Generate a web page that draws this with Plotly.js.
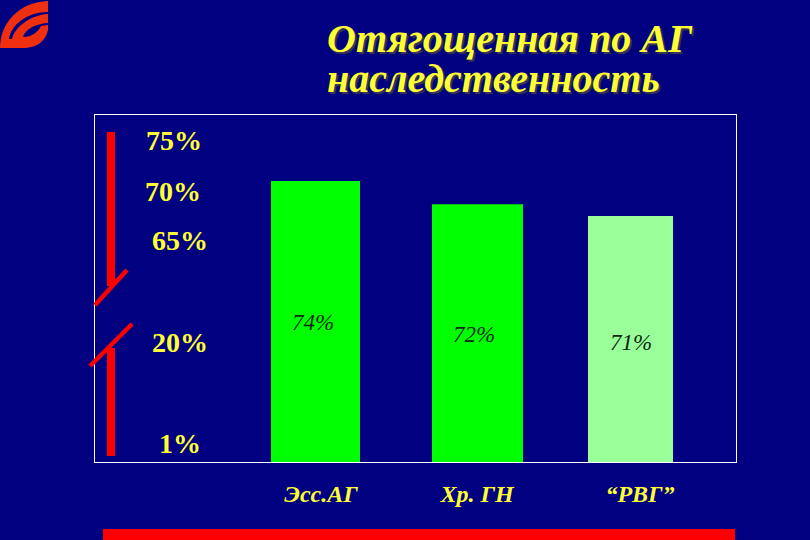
<!DOCTYPE html>
<html><head><meta charset="utf-8">
<script src="https://cdn.plot.ly/plotly-3.0.1.min.js"></script>
<style>html,body{margin:0;padding:0;background:#000080;overflow:hidden}</style>
</head><body><div id="chart" style="width:810px;height:540px"></div>
<script>
// --- data ---
const categories = ['Эсс.АГ', 'Хр. ГН', '“РВГ”'];
const values = [74, 72, 71];
const valueLabels = ['74%', '72%', '71%'];
const barColors = ['#00ff00', '#00ff00', '#99ff99'];
const axisLabels = ['75%', '70%', '65%', '20%', '1%'];
const titleLines = ['Отягощенная по АГ', 'наследственность'];

// --- geometry (page pixels) ---
const W = 810, H = 540, L = 95, R = 736, T = 115, B = 462;
const barCenters = [315.5, 477.5, 630.5];
const barWidths = [89, 91, 85];
const tickCenters = [321, 477, 640];
const axisLabelX = [173.5, 172.5, 179.5, 179.5, 180];
const axisLabelY = [140, 191, 240, 342, 443];
const valueLabelX = [313, 474, 631];
const valueLabelY = [322, 334, 342];
const yLow = 49.9, yHigh = 79.66;

const px = x => (x - L) / (R - L), py = y => (B - y) / (B - T);
const serif = 'Liberation Serif, Times New Roman, serif';
const yellow = '#ffff33';

const trace = {
  type: 'bar', x: barCenters, y: values.map(v => v - yLow), base: yLow, width: barWidths,
  marker: {color: barColors, line: {width: 0}}, hoverinfo: 'skip', cliponaxis: false
};

const annotations = [];
axisLabels.forEach((t, i) => annotations.push({
  text: t, xref: 'paper', yref: 'paper', x: px(axisLabelX[i]), y: py(axisLabelY[i]),
  showarrow: false, xanchor: 'center', yanchor: 'middle',
  font: {family: serif, size: 28, color: yellow, weight: 700}
}));
valueLabels.forEach((t, i) => annotations.push({
  text: t, xref: 'paper', yref: 'paper', x: px(valueLabelX[i]), y: py(valueLabelY[i]),
  showarrow: false, xanchor: 'center', yanchor: 'middle',
  font: {family: serif, size: 23, color: '#0a2a10', style: 'italic'}
}));
titleLines.forEach((t, i) => annotations.push({
  text: t, xref: 'paper', yref: 'paper', x: px(325), y: py([39, 79][i]),
  showarrow: false, xanchor: 'left', yanchor: 'middle',
  font: {family: serif, size: 40, color: yellow, weight: 700, style: 'italic', shadow: '2px 2px 1px #3a3a50'}
}));

const red = '#ff0000';
const shapes = [
  {x0: 107, x1: 115, y0: 132, y1: 286},
  {x0: 107, x1: 115, y0: 348, y1: 456},
  {x0: 103, x1: 735, y0: 529, y1: 540}
].map(r => ({type: 'rect', xref: 'paper', yref: 'paper', layer: 'above',
  x0: px(r.x0), x1: px(r.x1), y0: py(r.y1), y1: py(r.y0), fillcolor: red, line: {width: 0}}));
[[95, 305, 127, 270], [90, 366, 132, 324]].forEach(s => shapes.push({
  type: 'line', xref: 'paper', yref: 'paper', layer: 'above',
  x0: px(s[0]), y0: py(s[1]), x1: px(s[2]), y1: py(s[3]), line: {color: red, width: 4.5}
}));

// logo, drawn in page pixels from the top-left corner
const logoParts = [
  {d: 'M0,48 C0,22 20,2 48,1 L48,30 C46,40 38,47 26,48 Z', fill: '#ee3010'},
  {d: 'M9,39 C11,25 27,12 48,12 L48,14 C30,15 15,27 12,39 Z', fill: '#000080'},
  {d: 'M23,37 C25,30 34,24 48,23 L48,25 L41,26 C38,32 32,37 23,37 Z', fill: '#000080'}
];
logoParts.forEach(p => shapes.push({
  type: 'path', xref: 'paper', yref: 'paper', xsizemode: 'pixel', ysizemode: 'pixel',
  xanchor: px(0), yanchor: py(0), layer: 'above',
  path: p.d.replace(/(-?\d+(?:\.\d+)?),(-?\d+(?:\.\d+)?)/g, (m, x, y) => `${+x},${-y}`),
  fillcolor: p.fill, line: {width: 0}
}));

Plotly.newPlot('chart', [trace], {
  width: W, height: H, showlegend: false,
  paper_bgcolor: '#000080', plot_bgcolor: '#000080',
  margin: {l: L, r: W - R, t: T, b: H - B, pad: 0},
  xaxis: {range: [L, R], showgrid: false, zeroline: false, showline: true, mirror: true,
    linecolor: '#ffffff', linewidth: 1, tickmode: 'array', tickvals: tickCenters, ticktext: categories,
    ticks: 'outside', ticklen: 10, tickcolor: 'rgba(0,0,0,0)',
    tickangle: 0, tickfont: {family: serif, size: 24, color: yellow, weight: 700, style: 'italic'}},
  yaxis: {range: [yLow, yHigh], showgrid: false, zeroline: false, showline: true, mirror: true,
    linecolor: '#ffffff', linewidth: 1, showticklabels: false, ticks: ''},
  annotations, shapes
}, {displayModeBar: false, staticPlot: true});
</script></body></html>
